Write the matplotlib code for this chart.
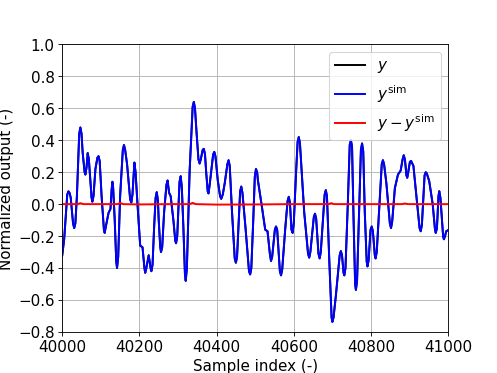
import matplotlib
matplotlib.use("Agg")
import matplotlib.pyplot as plt
import numpy as np

# simulated output (sample index, value)
sample_idx = [40000, 40005, 40013, 40016, 40019, 40022, 40028, 40031, 40034, 40038,
              40044, 40047, 40050, 40053, 40058, 40060, 40063, 40066, 40069, 40072,
              40076, 40078, 40081, 40086, 40091, 40094, 40097, 40102, 40108, 40110,
              40113, 40120, 40125, 40128, 40130, 40132, 40136, 40140, 40142, 40145,
              40150, 40157, 40160, 40163, 40168, 40176, 40179, 40182, 40187, 40190,
              40195, 40202, 40208, 40213, 40215, 40218, 40224, 40229, 40231, 40234,
              40238, 40242, 40245, 40248, 40250, 40254, 40256, 40259, 40264, 40270,
              40273, 40277, 40281, 40288, 40293, 40295, 40298, 40304, 40307, 40310,
              40314, 40318, 40320, 40323, 40330, 40338, 40341, 40344, 40348, 40353,
              40356, 40359, 40364, 40367, 40370, 40373, 40377, 40379, 40382, 40391,
              40394, 40397, 40403, 40409, 40412, 40416, 40421, 40428, 40431, 40434,
              40440, 40447, 40450, 40453, 40461, 40464, 40467, 40475, 40484, 40487,
              40490, 40495, 40499, 40502, 40505, 40507, 40517, 40526, 40532, 40538,
              40541, 40544, 40551, 40554, 40557, 40564, 40567, 40570, 40578, 40584,
              40587, 40590, 40594, 40597, 40600, 40606, 40610, 40613, 40616, 40627,
              40637, 40640, 40643, 40652, 40655, 40658, 40664, 40667, 40670, 40680,
              40683, 40686, 40692, 40698, 40700, 40703, 40709, 40719, 40722, 40725,
              40729, 40731, 40734, 40740, 40745, 40748, 40751, 40755, 40759, 40761,
              40764, 40770, 40774, 40777, 40780, 40784, 40789, 40791, 40794, 40799,
              40802, 40805, 40810, 40812, 40815, 40822, 40828, 40831, 40834, 40840,
              40849, 40852, 40855, 40862, 40870, 40877, 40882, 40885, 40888, 40892,
              40894, 40896, 40901, 40904, 40910, 40920, 40926, 40929, 40932, 40939,
              40942, 40945, 40951, 40960, 40966, 40968, 40971, 40975, 40977, 40980,
              40987, 40989, 40992, 40995, 41000]
y_sim = [-0.32, -0.22, 0.06, 0.08, 0.07, 0.04, -0.12, -0.15, -0.12, 0.05,
         0.44, 0.48, 0.44, 0.32, 0.20, 0.185, 0.23, 0.32, 0.28, 0.18,
         0.04, 0.015, 0.05, 0.22, 0.29, 0.30, 0.27, 0.05, -0.16, -0.18,
         -0.14, -0.055, -0.03, 0.09, 0.14, 0.10, -0.10, -0.36, -0.40, -0.33,
         0.05, 0.34, 0.37, 0.34, 0.25, 0.03, 0.01, 0.06, 0.26, 0.20,
         0.0, -0.26, -0.27, -0.40, -0.43, -0.40, -0.32, -0.40, -0.42, -0.38,
         -0.15, 0.04, 0.075, 0.02, -0.10, -0.27, -0.30, -0.27, -0.05, 0.12,
         0.148, 0.07, 0.05, -0.10, -0.23, -0.245, -0.20, 0.14, 0.175, 0.10,
         -0.15, -0.44, -0.48, -0.40, 0.20, 0.61, 0.64, 0.60, 0.45, 0.28,
         0.254, 0.28, 0.34, 0.346, 0.31, 0.20, 0.08, 0.067, 0.12, 0.31,
         0.327, 0.30, 0.15, 0.05, 0.033, 0.06, 0.13, 0.25, 0.275, 0.24,
         -0.05, -0.34, -0.367, -0.33, 0.08, 0.11, 0.07, -0.15, -0.42, -0.44,
         -0.40, -0.10, 0.17, 0.22, 0.20, 0.15, -0.01, -0.16, -0.17, -0.31,
         -0.356, -0.33, -0.16, -0.14, -0.16, -0.42, -0.446, -0.41, -0.15, 0.02,
         0.046, 0.01, -0.16, -0.18, -0.12, 0.20, 0.39, 0.42, 0.38, -0.05,
         -0.31, -0.335, -0.30, -0.08, -0.06, -0.09, -0.31, -0.34, -0.30, 0.06,
         0.0875, 0.05, -0.35, -0.71, -0.737, -0.71, -0.575, -0.32, -0.294, -0.32,
         -0.43, -0.446, -0.40, 0.0, 0.37, 0.40, 0.36, -0.10, -0.50, -0.537,
         -0.48, 0.0, 0.34, 0.38, 0.33, -0.05, -0.36, -0.39, -0.35, -0.16,
         -0.14, -0.17, -0.32, -0.34, -0.30, 0.0, 0.25, 0.275, 0.25, 0.13,
         -0.12, -0.15, -0.11, 0.10, 0.185, 0.21, 0.28, 0.306, 0.28, 0.18,
         0.165, 0.19, 0.265, 0.27, 0.24, 0.0, -0.15, -0.17, -0.13, 0.18,
         0.20, 0.19, 0.144, 0.0, -0.16, -0.18, -0.15, 0.05, 0.081, 0.04,
         -0.20, -0.22, -0.20, -0.17, -0.163]

# residual y - y_sim, almost flat at zero
res_idx = [40000, 40040, 40047, 40055, 40100, 40145, 40150, 40158, 40200, 40280,
           40330, 40338, 40346, 40400, 40500, 40600, 40690, 40697, 40705, 40800,
           40880, 40888, 40896, 41000]
res_val = [0.0, 0.0, 0.006, 0.0, 0.0, 0.0, 0.008, 0.0, -0.002, 0.0,
           0.0, 0.008, 0.0, -0.003, -0.002, 0.0, 0.0, 0.006, 0.0, 0.0,
           0.0, 0.004, 0.0, 0.0]

plt.rcParams["font.size"] = 14
fig, ax = plt.subplots(figsize=(6.4, 4.8), dpi=77.8)

ax.plot(sample_idx, y_sim, color="k", lw=1.8, label="$y$")
ax.plot(sample_idx, y_sim, color="b", lw=1.8, label="$y^{\\mathrm{sim}}$",
        solid_joinstyle="round")
ax.plot(res_idx, res_val, color="r", lw=1.8, label="$y - y^{\\mathrm{sim}}$")

ax.set_xlim(40000, 41000)
ax.set_ylim(-0.8, 1.0)
ax.set_xticks(np.arange(40000, 41001, 200))
ax.set_yticks(np.arange(-0.8, 1.01, 0.2))
ax.grid(True)
ax.set_xlabel("Sample index (-)")
ax.set_ylabel("Normalized output (-)")
ax.legend(loc="upper right")

plt.savefig("out.png")
